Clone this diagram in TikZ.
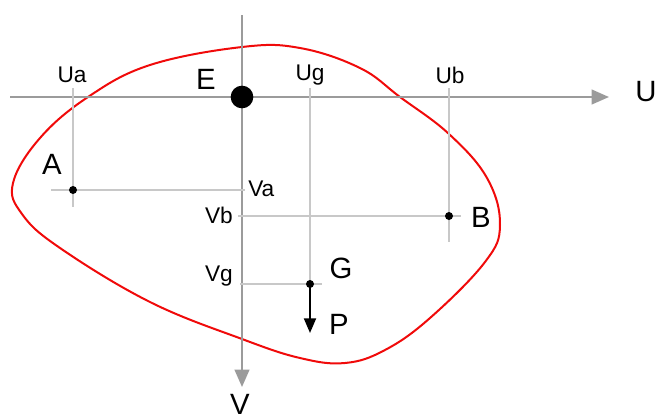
\documentclass[tikz,border=0pt]{standalone}
\usepackage{fontspec}
\setmainfont{Liberation Sans}
\usepackage{tikz}
\usetikzlibrary{arrows.meta,positioning}
\definecolor{axiscolor}{RGB}{155,155,155}
\definecolor{guidecolor}{RGB}{200,200,200}
\definecolor{bodycolor}{RGB}{240,10,10}
\tikzset{
axisline/.style={
  draw=axiscolor,
  line width=1.6pt,
  -{Triangle[length=13pt,width=11pt]}
},
guideline/.style={
  draw=guidecolor,
  line width=1.4pt
},
bigtext/.style={
  font=\fontsize{22}{26}\selectfont,
  inner sep=0pt
},
smalltext/.style={
  font=\fontsize{17}{20}\selectfont,
  inner sep=0pt
},
dot/.style={
  circle,
  fill=black,
  inner sep=0pt,
  minimum size=6pt
},
forcearrow/.style={
  -{Triangle[length=11pt,width=9pt]},
  line width=1.5pt
}
}
\begin{document}
\begin{tikzpicture}[x=0.75pt,y=-0.75pt]
        \useasboundingbox (0,0) rectangle (658,419);
        % body outline
        \draw[bodycolor, line width=1.5pt] plot[smooth cycle, tension=0.65] coordinates {
          (13,183) (40,138) (88,97) (150,65) (242,47) (300,48) (360,68) (400,97)
          (449,134) (487,178) (500,225) (485,262) (430,318) (385,350) (345,363)
          (300,358) (242,339) (150,302) (60,248) (22,214)};
        % axes
        \coordinate (uStart) at (10,97);
        \coordinate (uEnd) at (609,97);
        \coordinate (vStart) at (242,15);
        \coordinate (vEnd) at (242,387);
        \draw[axisline] (uStart) -- (uEnd);
        \draw[axisline] (vStart) -- (vEnd);
        \node[bigtext] (uLabel) at (646,92) {U};
        \node[bigtext] (vLabel) at (240,404) {V};
        % points
        \coordinate (E) at (242,97);
        \coordinate (A) at (73,190);
        \coordinate (B) at (449,216);
        \coordinate (G) at (310,284);
        \coordinate (P) at (310,333);
        % guide lines
        \coordinate (uaTop) at (73,88);
        \coordinate (uaBot) at (73,207);
        \coordinate (ugTop) at (310,88);
        \coordinate (ubTop) at (449,88);
        \coordinate (ubBot) at (449,242);
        \coordinate (vaLeft) at (51,190);
        \coordinate (vaRight) at (245,190);
        \coordinate (vbLeft) at (238,216);
        \coordinate (vbRight) at (461,216);
        \coordinate (vgLeft) at (240,284);
        \coordinate (vgRight) at (322,284);
        \draw[guideline] (uaTop) -- (uaBot);
        \draw[guideline] (ugTop) -- (G);
        \draw[guideline] (ubTop) -- (ubBot);
        \draw[guideline] (vaLeft) -- (vaRight);
        \draw[guideline] (vbLeft) -- (vbRight);
        \draw[guideline] (vgLeft) -- (vgRight);
        % dots
        \node[circle, fill=black, inner sep=0pt, minimum size=17pt] (eDot) at (E) {};
        \node[dot] (aDot) at (A) {};
        \node[dot] (bDot) at (B) {};
        \node[dot] (gDot) at (G) {};
        \draw[forcearrow] (gDot.center) -- (P);
        % labels
        \node[bigtext] (eLabel) at (206,79) {E};
        \node[bigtext] (aLabel) at (52,164) {A};
        \node[bigtext] (bLabel) at (481,217) {B};
        \node[bigtext] (gLabel) at (341,268) {G};
        \node[bigtext] (pLabel) at (339,324) {P};
        \node[smalltext] (uaLabel) at (72,75) {Ua};
        \node[smalltext] (ugLabel) at (310,75) {Ug};
        \node[smalltext] (ubLabel) at (450,75) {Ub};
        \node[smalltext, anchor=west] (vaLabel) at (248,189) {Va};
        \node[smalltext, anchor=east] (vbLabel) at (233,215) {Vb};
        \node[smalltext, anchor=east] (vgLabel) at (233,276) {Vg};
\end{tikzpicture}
\end{document}
